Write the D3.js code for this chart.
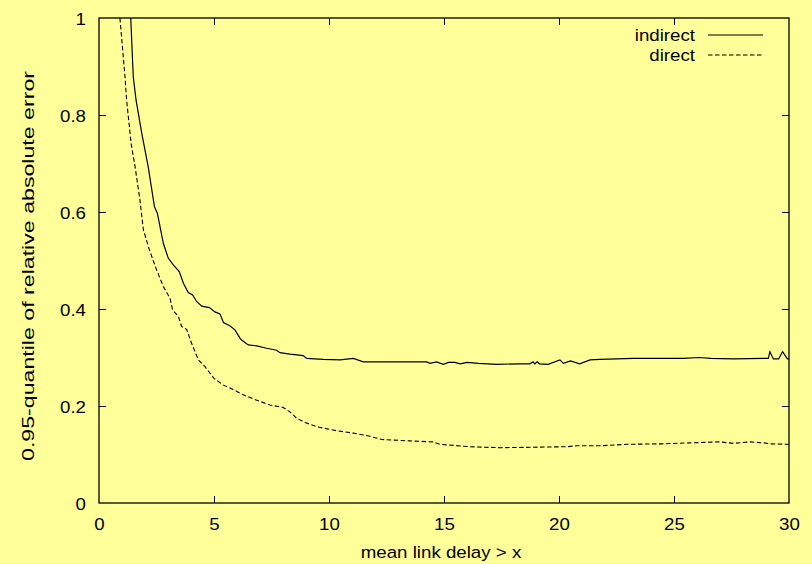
<!DOCTYPE html>
<html><head><meta charset="utf-8">
<script src="https://cdn.jsdelivr.net/npm/d3@7"></script>
<style>
html,body{margin:0;padding:0;background:#ffff99;}
svg{display:block;}
text{font-family:"Liberation Sans",Arial,Helvetica,sans-serif;fill:#000;}
</style></head>
<body>
<svg id="chart" width="812" height="564"></svg>
<script>
const xIndirect=[1.38,1.49,1.61,1.86,2.14,2.41,2.54,2.68,2.80,3.01,3.23,3.49,3.67,3.88,4.07,4.25,4.47,4.80,5.04,5.26,5.41,5.70,5.91,6.13,6.20,6.49,6.86,7.29,7.72,7.87,8.30,8.88,9.03,9.75,10.48,11.06,11.49,12.2,13.09,14.25,14.39,14.68,14.97,15.2,15.48,15.7,16.0,16.5,17.29,18.3,18.74,18.87,18.95,19.05,19.15,19.53,20.04,20.19,20.5,20.9,21.35,21.78,23.23,25.4,26.1,26.6,27.58,28.88,29.1,29.17,29.32,29.55,29.72,29.93,30];
const yIndirect=[1.0,0.879,0.831,0.762,0.693,0.611,0.597,0.563,0.535,0.505,0.491,0.477,0.453,0.434,0.429,0.415,0.406,0.403,0.394,0.390,0.372,0.365,0.357,0.340,0.336,0.326,0.324,0.319,0.315,0.310,0.307,0.304,0.298,0.296,0.295,0.298,0.291,0.291,0.291,0.291,0.288,0.291,0.286,0.290,0.290,0.287,0.290,0.288,0.286,0.287,0.287,0.291,0.287,0.291,0.287,0.286,0.295,0.288,0.293,0.287,0.295,0.296,0.298,0.298,0.300,0.298,0.297,0.298,0.298,0.312,0.297,0.297,0.312,0.297,0.297];
const xDirect=[0.91,1.13,1.20,1.40,1.57,1.78,1.93,2.19,2.51,2.80,3.09,3.20,3.45,3.59,3.81,4.03,4.32,4.61,5.0,5.41,5.84,6.27,6.86,7.43,8.01,8.30,8.59,8.96,9.5,10.33,11.06,11.64,12.3,13.5,14.54,14.83,16.13,17.43,18.88,20.33,20.77,21.78,22.94,24.5,25.7,27.0,27.58,28.3,28.9,29.17,29.93,30];
const yDirect=[1.0,0.879,0.831,0.740,0.693,0.625,0.563,0.522,0.480,0.446,0.422,0.398,0.385,0.364,0.358,0.329,0.295,0.281,0.257,0.243,0.234,0.223,0.212,0.202,0.197,0.188,0.175,0.166,0.157,0.149,0.144,0.139,0.131,0.128,0.126,0.121,0.116,0.114,0.115,0.116,0.118,0.118,0.121,0.122,0.124,0.126,0.123,0.126,0.124,0.122,0.121,0.121];
const xTicks=[0,5,10,15,20,25,30];
const yTicks=[0,0.2,0.4,0.6,0.8,1];
const yTickLabels=["0","0.2","0.4","0.6","0.8","1"];
const seriesNames=["indirect","direct"];
const xTitle="mean link delay > x";
const yTitle="0.95-quantile of relative absolute error";

const W=812,H=564,m={l:99,t:18,r:23,b:61};
const FS=17, SX=1.1;
const svg=d3.select("#chart");
svg.append("rect").attr("width",W).attr("height",H).attr("fill","#ffff99");
const x=d3.scaleLinear().domain([0,30]).range([m.l,W-m.r]);
const y=d3.scaleLinear().domain([0,1]).range([H-m.b,m.t]);

svg.append("defs").append("clipPath").attr("id","clip").append("rect")
  .attr("x",m.l).attr("y",m.t).attr("width",W-m.l-m.r).attr("height",H-m.t-m.b);

function styleAxis(g){g.select(".domain").remove();g.selectAll(".tick line").attr("stroke","#000").attr("stroke-width",1);}
const gx=svg.append("g").attr("transform",`translate(0,${H-m.b})`)
  .call(d3.axisBottom(x).tickValues(xTicks).tickSizeInner(-7).tickSizeOuter(0).tickFormat(d3.format("d")));
styleAxis(gx);
gx.selectAll(".tick text").attr("y",0).attr("dy",0).attr("transform",`translate(0,27) scale(${SX},1)`).style("font-size",FS+"px");
gx.selectAll(".tick").filter(d=>d===0||d===30).select("line").remove();
const gt=svg.append("g").attr("transform",`translate(0,${m.t})`)
  .call(d3.axisTop(x).tickValues(xTicks.filter(d=>d>0&&d<30)).tickSizeInner(-7).tickSizeOuter(0).tickFormat(""));
styleAxis(gt);
const gy=svg.append("g").attr("transform",`translate(${m.l},0)`)
  .call(d3.axisLeft(y).tickValues(yTicks).tickSizeInner(-7).tickSizeOuter(0).tickFormat((d,i)=>yTickLabels[i]));
styleAxis(gy);
gy.selectAll(".tick text").attr("x",0).attr("dy",0).attr("transform",`translate(-13,6) scale(${SX},1)`).style("font-size",FS+"px");
gy.selectAll(".tick").filter(d=>d===0||d===1).select("line").remove();
const gr=svg.append("g").attr("transform",`translate(${W-m.r},0)`)
  .call(d3.axisRight(y).tickValues(yTicks.filter(d=>d>0&&d<1)).tickSizeInner(-7).tickSizeOuter(0).tickFormat(""));
styleAxis(gr);

svg.append("rect").attr("x",m.l).attr("y",m.t).attr("width",W-m.l-m.r).attr("height",H-m.t-m.b)
  .attr("fill","none").attr("stroke","#000").attr("stroke-width",1.3);

const line=d3.line().x(d=>x(d[0])).y(d=>y(d[1]));
const dI=xIndirect.map((v,i)=>[v,yIndirect[i]]);
const dD=xDirect.map((v,i)=>[v,yDirect[i]]);
const pg=svg.append("g").attr("clip-path","url(#clip)");
pg.append("path").attr("d",line(dI)).attr("fill","none").attr("stroke","#000").attr("stroke-width",1.2);
pg.append("path").attr("d",line(dD)).attr("fill","none").attr("stroke","#000").attr("stroke-width",1.1).attr("stroke-dasharray","4.5,2.5");

const lg=svg.append("g");
[[seriesNames[0],null],[seriesNames[1],"4.5,2.5"]].forEach((s,i)=>{
  const cy=35+i*20;
  lg.append("text").attr("transform",`translate(695,${cy+6}) scale(${SX},1)`).attr("text-anchor","end").style("font-size",FS+"px").text(s[0]);
  const l=lg.append("line").attr("x1",708).attr("x2",763).attr("y1",cy).attr("y2",cy).attr("stroke","#000").attr("stroke-width",1.1);
  if(s[1]) l.attr("stroke-dasharray",s[1]);
});

svg.append("text").attr("transform",`translate(441,558) scale(${SX},1)`).attr("text-anchor","middle").style("font-size",FS+"px").text(xTitle);
svg.append("text").attr("transform",`translate(34,266) rotate(-90)`).attr("text-anchor","middle")
  .attr("textLength",390).attr("lengthAdjust","spacingAndGlyphs").style("font-size","17px").text(yTitle);
</script>
</body></html>
